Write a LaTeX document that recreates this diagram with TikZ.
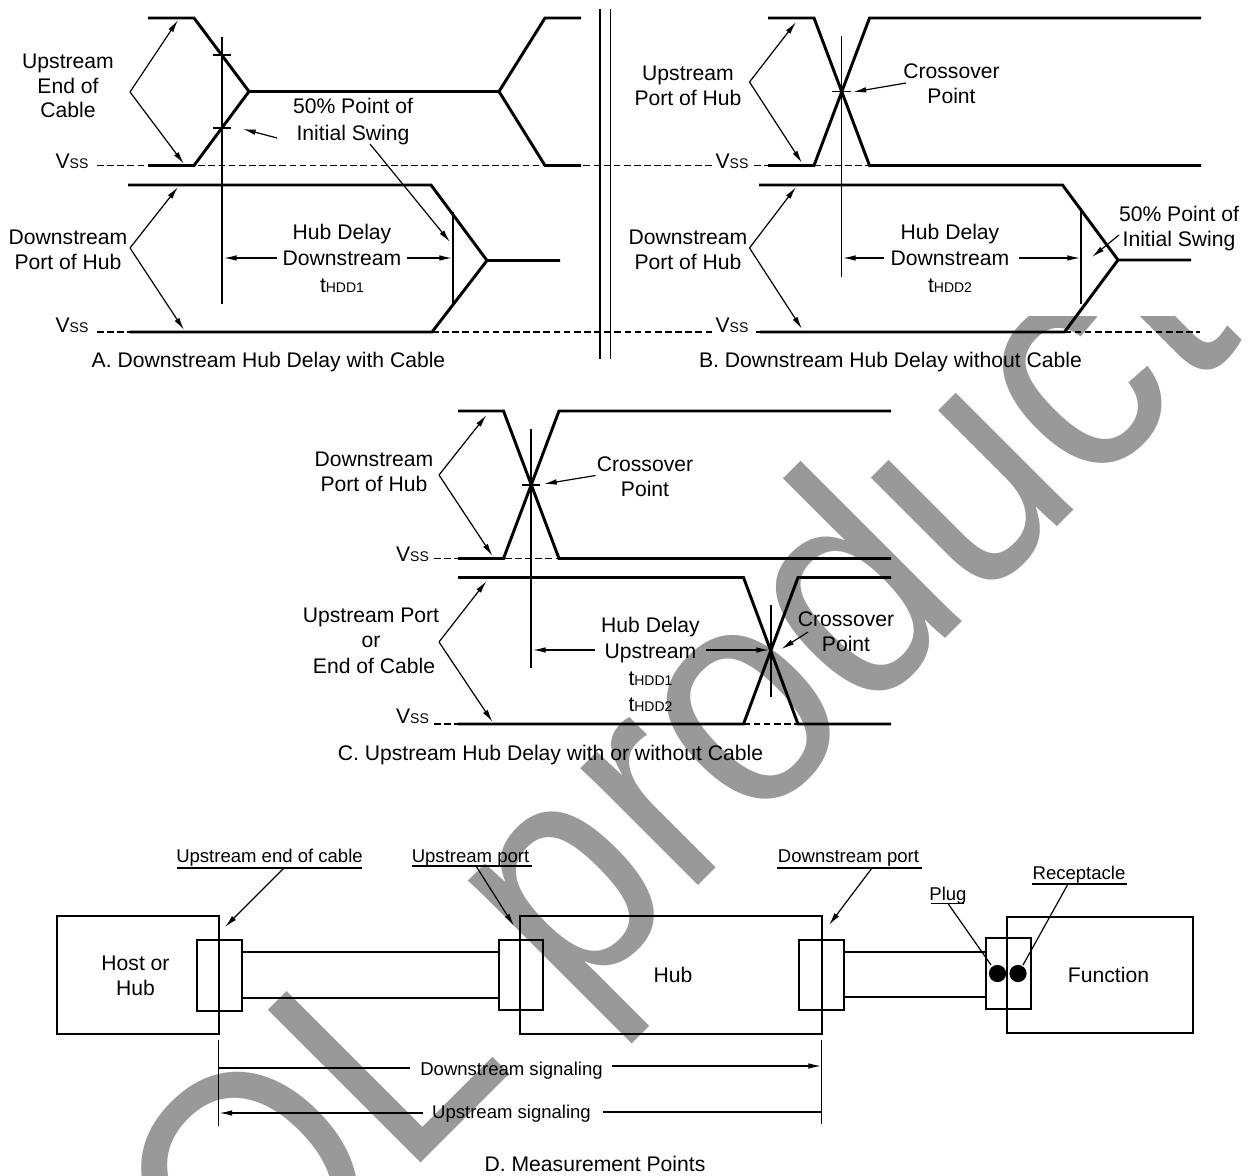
\documentclass[tikz,border=0pt]{standalone}
\usepackage{fontspec}
\setmainfont{Liberation Sans}
\usetikzlibrary{arrows.meta}
\definecolor{wm}{HTML}{999999}
\tikzset{
  sig/.style={line width=2.2pt,line join=miter},
  thin line/.style={line width=0.9pt},
  vss/.style={line width=0.8pt,dash pattern=on 5pt off 2.6pt},
  arr/.style={line width=0.9pt,-{Latex[length=9.5pt,width=4.2pt]}},
  boxl/.style={line width=1.5pt},
}
\newcommand{\Vs}{V{\fontsize{10.5}{12}\selectfont SS}}
\newcommand{\tH}[1]{t{\fontsize{10.5}{12}\selectfont HDD#1}}
\newcommand{\Tl}[3]{\node[inner sep=0pt,yshift=-2.2pt,font=\fontsize{15.85}{18}\selectfont] (#1) at #2 {\strut #3};}
\newcommand{\Ts}[3]{\node[inner sep=0pt,yshift=-1.4pt,font=\fontsize{13.9}{16}\selectfont] (#1) at #2 {#3};}
\begin{document}
\begin{tikzpicture}[x=0.75pt,y=-0.75pt]
\useasboundingbox (0,0) rectangle (1248,1176);
% watermark
\begin{scope}
\clip (0,317) rectangle (1248,1176);
\node[wm,inner sep=0pt,anchor=base west,rotate=45,xscale=0.907,font=\fontsize{235.5}{236}\selectfont] (mark) at (248,1336) {OL product};
\end{scope}

% ---------- Panel A
\draw[sig] (148,18) -- (194,18) -- (249,91.5) -- (499,91.5) -- (545,18) -- (581,18);
\draw[sig] (148,165.5) -- (194,165.5) -- (249,91.5) (499,91.5) -- (545,165.5) -- (581,165.5);
\draw[vss] (97,165.5) -- (712,165.5);
\draw[sig] (128,185) -- (431,185) -- (487,260.5) -- (560,260.5);
\draw[sig] (130,332) -- (432,332) -- (487,260.5);
\draw[vss] (97,332) -- (130,332) (432,332) -- (712,332);
\draw[thin line] (222,37) -- (222,304);
\draw[thin line] (213,55) -- (231,55) (213,128) -- (231,128);
\draw[thin line] (453,212) -- (453,304);
\draw[thin line] (600,9) -- (600,359) (610.5,9) -- (610.5,359);
\coordinate (a1) at (130,92);
\draw[arr] (a1) -- (178,20);
\draw[arr] (a1) -- (184,164);
\coordinate (a2) at (130,248);
\draw[arr] (a2) -- (178,187);
\draw[arr] (a2) -- (184,330);
\draw[arr] (277,138) -- (243,129);
\draw[arr] (370,144) -- (450,242);
\draw[arr] (277,258) -- (224,258);
\draw[arr] (407,258) -- (452,258);
\Tl{aa}{(68,61)}{Upstream}
\Tl{ab}{(68,85.5)}{End of}
\Tl{ac}{(68,110)}{Cable}
\Tl{ad}{(353,106)}{50\% Point of}
\Tl{ae}{(353,133)}{Initial Swing}
\Tl{af}{(72,161)}{\Vs}
\Tl{ag}{(72,325)}{\Vs}
\Tl{ah}{(68,237)}{Downstream}
\Tl{ai}{(68,262)}{Port of Hub}
\Tl{aj}{(342,232)}{Hub Delay}
\Tl{ak}{(342,258)}{Downstream}
\Tl{al}{(342,285)}{\tH{1}}
\Tl{am}{(268.5,360)}{A. Downstream Hub Delay with Cable}

% ---------- Panel B
\draw[sig] (768,18) -- (814,18) -- (869.5,165.5) -- (1201,165.5);
\draw[sig] (768,165.5) -- (814,165.5) -- (869.5,18) -- (1201,18);
\draw[vss] (754,165.5) -- (870,165.5);
\draw[sig] (759,185) -- (1062.5,185) -- (1118,260) -- (1191,260);
\draw[sig] (760,332) -- (1064.5,332) -- (1118,260);
\draw[vss] (756,332) -- (760,332) (1064.5,332) -- (1200,332);
\draw[thin line] (841.5,36) -- (841.5,277);
\draw[thin line] (832,91.5) -- (851,91.5);
\draw[thin line] (1081,208) -- (1081,304);
\coordinate (b1) at (749.5,82);
\draw[arr] (b1) -- (796,22);
\draw[arr] (b1) -- (802,163);
\coordinate (b2) at (749.5,248);
\draw[arr] (b2) -- (796,187);
\draw[arr] (b2) -- (802,329);
\draw[arr] (906,83) -- (853.5,92);
\draw[arr] (884,258) -- (843,258);
\draw[arr] (1019,258) -- (1080,258);
\draw[arr] (1119,235) -- (1092,257);
\Tl{ba}{(688,73)}{Upstream}
\Tl{bb}{(688,98)}{Port of Hub}
\Tl{bc}{(951.5,71)}{Crossover}
\Tl{bd}{(951.5,96)}{Point}
\Tl{be}{(732,161)}{\Vs}
\Tl{bf}{(732,325)}{\Vs}
\Tl{bg}{(688,237)}{Downstream}
\Tl{bh}{(688,262)}{Port of Hub}
\Tl{bi}{(950,232)}{Hub Delay}
\Tl{bj}{(950,258)}{Downstream}
\Tl{bk}{(950,285)}{\tH{2}}
\Tl{bl}{(1179,214)}{50\% Point of}
\Tl{bm}{(1179,239)}{Initial Swing}
\Tl{bn}{(890.5,360)}{B. Downstream Hub Delay without Cable}

% ---------- Panel C
\draw[sig] (458,411) -- (503.5,411) -- (559,558.5) -- (891,558.5);
\draw[sig] (458,558.5) -- (503.5,558.5) -- (559,411) -- (891,411);
\draw[vss] (434,558.5) -- (559,558.5);
\draw[sig] (458,577.5) -- (743.5,577.5) -- (798,724) -- (891,724);
\draw[sig] (458,724) -- (743.5,724) -- (798,577.5) -- (891,577.5);
\draw[vss] (434,724) -- (458,724) (743.5,724) -- (798,724);
\draw[thin line] (531,429) -- (531,668);
\draw[thin line] (522,485) -- (540,485);
\draw[thin line] (771,605) -- (771,697);
\coordinate (c1) at (439,475);
\draw[arr] (c1) -- (486.5,415);
\draw[arr] (c1) -- (492.5,556);
\coordinate (c2) at (439,642);
\draw[arr] (c2) -- (486.5,581);
\draw[arr] (c2) -- (492.5,722);
\draw[arr] (595.5,475.5) -- (544,484);
\draw[arr] (808,632) -- (781.5,649);
\draw[arr] (594.5,650) -- (533,650);
\draw[arr] (706,650) -- (769,650);
\Tl{ca}{(374,459)}{Downstream}
\Tl{cb}{(374,484)}{Port of Hub}
\Tl{cc}{(645,464)}{Crossover}
\Tl{cd}{(645,489)}{Point}
\Tl{ce}{(412.5,554)}{\Vs}
\Tl{cf}{(412.5,716)}{\Vs}
\Tl{cg}{(371,615)}{Upstream Port}
\Tl{ch}{(371,640)}{or}
\Tl{ci}{(374,666)}{End of Cable}
\Tl{cj}{(650.5,625)}{Hub Delay}
\Tl{ck}{(650.5,651)}{Upstream}
\Tl{cl}{(650.5,678)}{\tH{1}}
\Tl{cm}{(650.5,704)}{\tH{2}}
\Tl{cn}{(846,619)}{Crossover}
\Tl{co}{(846,644)}{Point}
\Tl{cp}{(550.5,753)}{C. Upstream Hub Delay with or without Cable}

% ---------- Panel D
\draw[boxl] (57,916) rectangle (219,1033.5);
\draw[boxl] (197,940) rectangle (242,1011);
\draw[boxl] (242,951.5) -- (498.5,951.5) (242,997.5) -- (498.5,997.5);
\draw[boxl] (498.5,939.5) rectangle (543,1010);
\draw[boxl] (520,916) rectangle (821.5,1033.5);
\draw[boxl] (799,939.5) rectangle (844,1010);
\draw[boxl] (844,951.5) -- (986,951.5) (843,996.5) -- (986,996.5);
\draw[boxl] (986,938) rectangle (1030.5,1009);
\draw[boxl] (1007,917) rectangle (1193,1032.5);
\fill (997.5,973.5) circle (8.6);
\fill (1018,973.5) circle (8.6);
\Tl{da}{(135.5,963)}{Host or}
\Tl{db}{(135.5,988)}{Hub}
\Tl{dc}{(673,975)}{Hub}
\Tl{dd}{(1108.5,975)}{Function}
\Ts{de}{(269.5,856)}{Upstream end of cable}
\Ts{df}{(470.5,856)}{Upstream port}
\Ts{dg}{(848.5,856)}{Downstream port}
\Ts{dh}{(948,894)}{Plug}
\Ts{di}{(1079,873)}{Receptacle}
\draw[thin line] (177,868) -- (362,868) (412,866) -- (532,866) (776.5,868) -- (922,868) (931,903.5) -- (964,903.5) (1032,884) -- (1126.5,884);
\draw[arr] (284,868) -- (225,927);
\draw[arr] (476,866) -- (514,926);
\draw[arr] (872,868) -- (829,925);
\draw[thin line] (948,903.5) -- (991,965);
\draw[thin line] (1068,884) -- (1023,965);
\draw[thin line] (218.5,1039.5) -- (218.5,1126);
\draw[thin line] (821.5,1040) -- (821.5,1124);
\draw[thin line] (218.5,1068) -- (410,1068);
\draw[arr] (612,1066) -- (821,1066);
\draw[arr] (423,1113) -- (219.5,1113);
\draw[thin line] (602.5,1112) -- (821,1112);
\Ts{dj}{(511.5,1069)}{Downstream signaling}
\Ts{dk}{(511.5,1112)}{Upstream signaling}
\Tl{dl}{(595,1164)}{D. Measurement Points}
\end{tikzpicture}
\end{document}
